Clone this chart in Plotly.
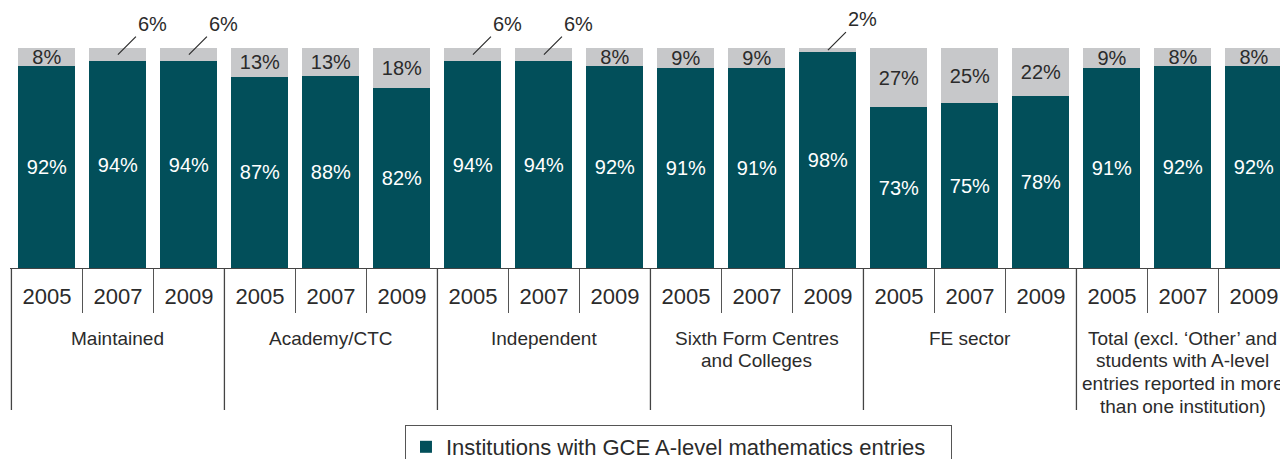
import plotly.graph_objects as go

# ---------------- data ----------------
groups = ["Maintained", "Academy/CTC", "Independent",
          "Sixth Form Centres<br>and Colleges", "FE sector",
          "Total (excl. ‘Other’ and<br>students with A-level<br>entries reported in more<br>than one institution)"]
years = ["2005", "2007", "2009"]
with_entries = [92, 94, 94, 87, 87.5, 82, 94, 94, 92, 91, 91, 98, 73, 75, 78, 91, 92, 92]
without_entries = [8, 6, 6, 13, 12.5, 18, 6, 6, 8, 9, 9, 2, 27, 25, 22, 9, 8, 8]

DARK = "#024f5a"
GREY = "#c7c8ca"
TXT = "#2b2b2b"
FONT = "Liberation Sans, Arial, sans-serif"

n = len(with_entries)
xs = list(range(n))
tick_text = [years[i % 3] for i in xs]

PLOT_H = 220.0  # px height of plot area


def pct(v):
    return f"{int(v + 0.5)}%"


fig = go.Figure()
fig.add_trace(go.Bar(
    x=xs, y=with_entries, name="Institutions with GCE A-level mathematics entries",
    marker=dict(color=DARK, line=dict(width=0)),
    text=[pct(v) for v in with_entries], textposition="inside",
    insidetextanchor="middle", textangle=0,
    textfont=dict(color="white", size=20, family=FONT),
    hoverinfo="skip", showlegend=True,
))
fig.add_trace(go.Bar(
    x=xs, y=without_entries, name="Institutions without entries",
    marker=dict(color=GREY, line=dict(width=0)),
    text=[pct(v) if v >= 7.5 else "" for v in without_entries], textposition="inside",
    insidetextanchor="middle", textangle=0,
    textfont=dict(color=TXT, size=20, family=FONT),
    hoverinfo="skip", showlegend=False,
))

# leader-line labels for small grey segments
for i, (d, g) in enumerate(zip(with_entries, without_entries)):
    if g < 7.5:
        fig.add_annotation(
            x=i, y=d + g / 2, xref="x", yref="y",
            text=pct(g), showarrow=True, arrowhead=0, arrowwidth=1.2,
            arrowcolor=TXT, ax=18, ay=-18, xanchor="left", yanchor="bottom",
            font=dict(size=20, color=TXT, family=FONT), standoff=0,
        )

# group labels (one annotation per text line for tighter line spacing)
for k, gname in enumerate(groups):
    for j, line in enumerate(gname.split("<br>")):
        fig.add_annotation(
            x=3 * k + 1, y=-(70 + 22.7 * j) / PLOT_H, xref="x", yref="paper",
            text=line, showarrow=False, xanchor="center", yanchor="middle",
            font=dict(size=19, color=TXT, family=FONT),
        )

# group divider lines
for k in range(len(groups) + 1):
    fig.add_shape(type="line", xref="x", yref="paper",
                  x0=3 * k - 0.5, x1=3 * k - 0.5, y0=0, y1=-142 / PLOT_H,
                  line=dict(color="#444444", width=1.3), layer="above")

fig.update_layout(
    width=1280, height=459,
    margin=dict(l=10, r=0, t=48, b=191, autoexpand=False),
    paper_bgcolor="white", plot_bgcolor="white",
    barmode="stack", bargap=0.197,
    uniformtext=dict(minsize=20, mode="show"),
    font=dict(family=FONT, color=TXT),
    legend=dict(
        x=0.311, y=-157 / PLOT_H, xanchor="left", yanchor="top",
        orientation="h", bordercolor="#555555", borderwidth=1,
        entrywidth=500, entrywidthmode="pixels",
        font=dict(size=22, color=TXT, family=FONT),
    ),
    xaxis=dict(
        range=[-0.52, 17.367], tickmode="array", tickvals=xs, ticktext=tick_text,
        ticks="", showline=True, linecolor="#444444", linewidth=1.3,
        showgrid=False, zeroline=False, ticklabelstandoff=8,
        tickfont=dict(size=22, color=TXT, family=FONT),
        minor=dict(tickmode="array", tickvals=[i + 0.5 for i in xs],
                   ticks="outside", ticklen=44, tickcolor="#555555", tickwidth=1.3),
    ),
    yaxis=dict(range=[0, 100], visible=False, fixedrange=True),
)

fig.write_html(
    "out.html",
    config={"displayModeBar": False, "staticPlot": True},
    post_script="document.body.style.margin='0';document.body.style.overflow='hidden';",
)
